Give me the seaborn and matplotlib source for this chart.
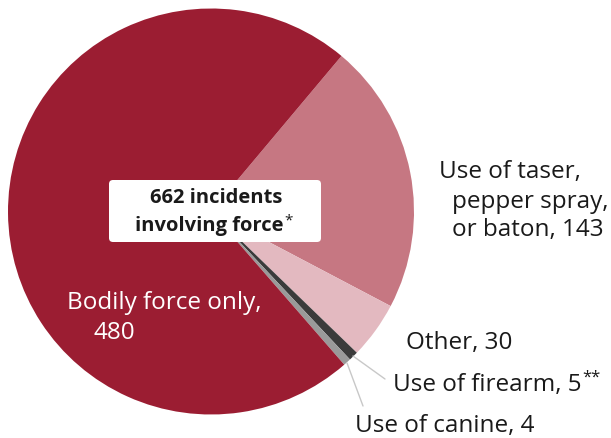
import matplotlib
matplotlib.use("Agg")
import matplotlib.pyplot as plt
import seaborn as sns
from matplotlib.patches import FancyBboxPatch

# Data
categories = ["Use of taser, pepper spray, or baton", "Other", "Use of firearm",
              "Use of canine", "Bodily force only"]
counts = [143, 30, 5, 4, 480]
colors = ["#c67782", "#e3b9c0", "#3b3b3b", "#9a9a9a", "#9b1d32"]
total_label = "662 incidents"

sns.set_theme(style="white")
plt.rcParams["font.family"] = ["Open Sans", "DejaVu Sans"]

W, H = 611, 439
fig = plt.figure(figsize=(W / 100, H / 100), dpi=100)
ax = fig.add_axes([0, 0, 1, 1])
ax.set_xlim(0, W)
ax.set_ylim(0, H)
ax.axis("off")


def py(y):
    # convert top-down pixel y to data y
    return H - y


ax.pie(counts, colors=colors, startangle=50, counterclock=False,
       center=(211, py(212.5)), radius=203,
       wedgeprops=dict(linewidth=0))
ax.set_xlim(0, W)
ax.set_ylim(0, H)
ax.set_aspect("equal")

fs = 17.5
tc = "#1a1a1a"
renderer = fig.canvas.get_renderer()


def sup_after(t, dy, text, size):
    # put a small raised mark right after text t
    bb = t.get_window_extent(renderer=renderer)
    x1 = ax.transData.inverted().transform((bb.x1, bb.y1))[0]
    ax.text(x1 + 0.5, t.get_position()[1] + dy, text, fontsize=size, color=tc,
            ha="left", va="center", zorder=6)


# Taser label with hanging indent
ax.text(439, py(172), "Use of taser,", fontsize=fs, color=tc, va="center", ha="left")
ax.text(452, py(202), "pepper spray,", fontsize=fs, color=tc, va="center", ha="left")
ax.text(452, py(230), "or baton, 143", fontsize=fs, color=tc, va="center", ha="left")

ax.text(406, py(343), "Other, 30", fontsize=fs, color=tc, va="center", ha="left")
t_fire = ax.text(393, py(385), "Use of firearm, 5", fontsize=fs, color=tc, va="center", ha="left")
sup_after(t_fire, 7, "**", 12)
ax.text(355, py(426), "Use of canine, 4", fontsize=fs, color=tc, va="center", ha="left")

ax.text(67, py(303), "Bodily force only,", fontsize=fs, color="white", va="center", ha="left")
ax.text(93, py(333), "480", fontsize=fs, color="white", va="center", ha="left")

# Leader lines
ax.plot([353, 385], [py(357), py(380)], color="#c8c8c8", lw=1)
ax.plot([347, 363], [py(364), py(407)], color="#c8c8c8", lw=1)

# Center box
box = FancyBboxPatch((111, py(241)), 208, 58,
                     boxstyle="round,pad=2,rounding_size=4",
                     facecolor="white", edgecolor="none", zorder=5)
ax.add_patch(box)
ax.text(216, py(198), total_label, fontsize=14.5, fontweight="bold", color=tc,
        ha="center", va="center", zorder=6)
t_inv = ax.text(135, py(226), "involving force", fontsize=14.5, fontweight="bold",
                color=tc, ha="left", va="center", zorder=6)
sup_after(t_inv, 5, "*", 11)

fig.savefig("out.png", dpi=100)
